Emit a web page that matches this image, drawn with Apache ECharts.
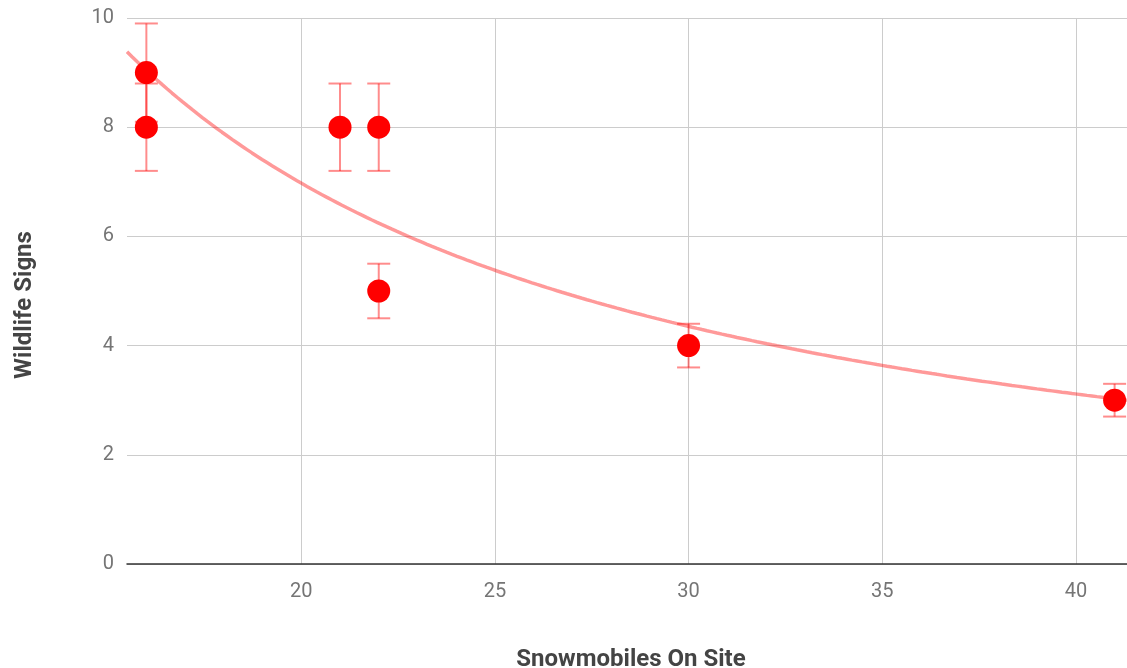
<!DOCTYPE html>
<html>
<head>
<meta charset="utf-8">
<script src="https://cdn.jsdelivr.net/npm/echarts@6/dist/echarts.min.js"></script>
<style>
html,body{margin:0;padding:0;background:#fff;}
#chart{width:1127px;height:668px;}
</style>
</head>
<body>
<div id="chart"></div>
<script>
// Data
const snowmobiles = [16, 16, 21, 22, 22, 30, 41];
const wildlifeSigns = [9, 8, 8, 8, 5, 4, 3];
const errorPercent = 10; // error bars: ±10% of value
const xTickValues = [20, 25, 30, 35, 40];
const xTitle = 'Snowmobiles On Site';
const yTitle = 'Wildlife Signs';

const X_MIN = 15.5, X_MAX = 41.32;

// Power trendline fitted (least squares in log-log space) from the data
function powerFit(xs, ys) {
  const n = xs.length;
  const lx = xs.map(Math.log), ly = ys.map(Math.log);
  const mx = lx.reduce((a, b) => a + b, 0) / n;
  const my = ly.reduce((a, b) => a + b, 0) / n;
  let sxy = 0, sxx = 0;
  for (let i = 0; i < n; i++) { sxy += (lx[i] - mx) * (ly[i] - my); sxx += (lx[i] - mx) ** 2; }
  const b = sxy / sxx;
  const a = Math.exp(my - b * mx);
  return x => a * Math.pow(x, b);
}
const fit = powerFit(snowmobiles, wildlifeSigns);
const trend = [];
for (let i = 0; i <= 200; i++) {
  const x = X_MIN + (X_MAX - X_MIN) * i / 200;
  trend.push([x, fit(x)]);
}

const points = snowmobiles.map((x, i) => [x, wildlifeSigns[i]]);
const errors = snowmobiles.map((x, i) => {
  const v = wildlifeSigns[i];
  const d = v * errorPercent / 100;
  return [x, v - d, v + d];
});

const chart = echarts.init(document.getElementById('chart'), null, {renderer: 'canvas'});
const font = 'Roboto, "Noto Sans", sans-serif';
chart.setOption({
  animation: false,
  backgroundColor: '#fff',
  grid: {left: 127, right: 0, top: 18, bottom: 104, outerBoundsMode: 'none', containLabel: false},
  xAxis: {
    type: 'value',
    min: X_MIN, max: X_MAX,
    name: xTitle,
    nameLocation: 'middle',
    nameGap: 84,
    nameTextStyle: {fontFamily: font, fontSize: 24, fontWeight: 'bold', color: '#444', padding: [0, 0, 0, 8]},
    axisLine: {show: true, lineStyle: {color: '#333', width: 1.5}},
    axisTick: {show: false, customValues: xTickValues},
    axisLabel: {customValues: xTickValues, fontFamily: font, fontSize: 20, color: '#757575', margin: 18},
    splitLine: {show: true, lineStyle: {color: '#ccc', width: 1}}
  },
  yAxis: {
    type: 'value',
    min: 0, max: 10, interval: 2,
    name: yTitle,
    nameLocation: 'middle',
    nameGap: 90,
    nameRotate: 90,
    nameTextStyle: {fontFamily: font, fontSize: 24, fontWeight: 'bold', color: '#444', padding: [0, 28, 0, 0]},
    axisLine: {show: false},
    axisTick: {show: false},
    axisLabel: {fontFamily: font, fontSize: 20, color: '#757575', margin: 13},
    splitLine: {show: true, lineStyle: {color: '#ccc', width: 1}}
  },
  series: [
    {
      type: 'line',
      data: trend,
      showSymbol: false,
      smooth: false,
      lineStyle: {color: 'rgba(255,0,0,0.4)', width: 3.5},
      z: 1,
      silent: true
    },
    {
      type: 'custom',
      data: errors,
      z: 2,
      renderItem: function (params, api) {
        const x = api.value(0);
        const lo = api.coord([x, api.value(1)]);
        const hi = api.coord([x, api.value(2)]);
        const hw = 11.5;
        const style = {stroke: 'rgba(255,0,0,0.45)', lineWidth: 2, fill: null};
        return {
          type: 'group',
          children: [
            {type: 'line', shape: {x1: lo[0], y1: lo[1], x2: hi[0], y2: hi[1]}, style: style},
            {type: 'line', shape: {x1: lo[0] - hw, y1: lo[1], x2: lo[0] + hw, y2: lo[1]}, style: style},
            {type: 'line', shape: {x1: hi[0] - hw, y1: hi[1], x2: hi[0] + hw, y2: hi[1]}, style: style}
          ]
        };
      }
    },
    {
      type: 'scatter',
      data: points,
      symbol: 'circle',
      symbolSize: 23,
      itemStyle: {color: '#ff0000', opacity: 1},
      z: 3
    }
  ]
});
</script>
</body>
</html>
